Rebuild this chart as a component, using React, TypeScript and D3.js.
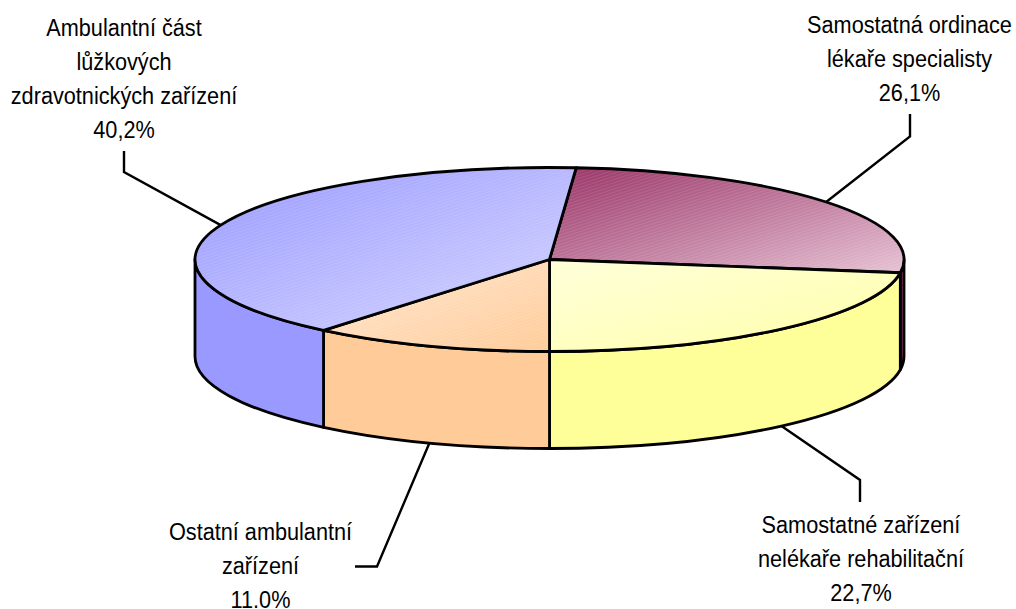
import React from 'react';
import * as d3 from 'd3';

const labels = [
  ['Samostatná ordinace', 'lékaře specialisty', '26,1%'],
  ['Samostatné zařízení', 'nelékaře rehabilitační', '22,7%'],
  ['Ostatní ambulantní', 'zařízení', '11.0%'],
  ['Ambulantní část', 'lůžkových', 'zdravotnických zařízení', '40,2%'],
];
const shares = [26.1, 22.7, 11.0, 40.2];
const sideColors = ['#993366', '#FFFF99', '#FFCC99', '#9999FF'];
const gradientStops = [
  ['#993366', '#E6C2D4'],
  ['#FFFFD9', '#FFFFA6'],
  ['#FFE8D4', '#FFCC99'],
  ['#9999FF', '#D6D6FF'],
];

const WIDTH = 1016;
const HEIGHT = 609;
const CX = 549.5;
const CY = 259.5;
const RX = 354.5;
const RY = 92;
const DEPTH = 97;
const LINE_H = 34;
const FONT_SIZE = 24.5;
const TEXT_SQUEEZE = 0.885;

// text anchor x, first baseline y, then the elbow and the end of each leader
const labelPos = [
  { x: 909.5, y: 33, elbow: [910, 136.5], end: [910, 114], wall: false },
  { x: 861, y: 533, elbow: [860, 480], end: [860, 502], wall: true },
  { x: 260.5, y: 540.5, elbow: [377, 566.5], end: [355, 566.5], wall: true },
  { x: 124, y: 36, elbow: [124, 172], end: [124, 151], wall: false },
];

// pie angles run clockwise from the top, so the ellipse point is sin/-cos
const pt = (a: number, y0 = CY): [number, number] => [CX + RX * Math.sin(a), y0 - RY * Math.cos(a)];

const topPath = (a0: number, a1: number) => {
  const [x0, y0] = pt(a0);
  const [x1, y1] = pt(a1);
  const large = a1 - a0 > Math.PI ? 1 : 0;
  return `M${CX},${CY}L${x0},${y0}A${RX},${RY} 0 ${large} 1 ${x1},${y1}Z`;
};

const wallPath = (a0: number, a1: number) => {
  const [x0, y0] = pt(a0);
  const [x1, y1] = pt(a1);
  const large = a1 - a0 > Math.PI ? 1 : 0;
  return `M${x0},${y0}A${RX},${RY} 0 ${large} 1 ${x1},${y1}L${x1},${y1 + DEPTH}A${RX},${RY} 0 ${large} 0 ${x0},${y0 + DEPTH}Z`;
};

export default function App() {
  const firstShare = (shares[0] + shares[1]) / 100;
  const start = Math.PI - firstShare * 2 * Math.PI;
  const arcs = d3.pie<number>().sort(null).startAngle(start).endAngle(start + 2 * Math.PI)(shares);
  const line = d3.line();

  return (
    <svg
      width={WIDTH}
      height={HEIGHT}
      style={{ position: 'absolute', left: 0, top: 0, background: '#fff' }}
      fontFamily="'Liberation Sans', Arial, sans-serif"
    >
      <defs>
        {gradientStops.map((s, i) => (
          <linearGradient key={i} id={`top${i}`} x1="0" y1="0" x2="1" y2="1">
            <stop offset="0" stopColor={s[0]} />
            <stop offset="1" stopColor={s[1]} />
          </linearGradient>
        ))}
        <pattern id="hatch" width="6" height="3" patternUnits="userSpaceOnUse" patternTransform="rotate(-18)">
          <rect width="6" height="1" fill="#fff" fillOpacity="0.1" />
        </pattern>
      </defs>

      {/* leaders go under the pie */}
      {arcs.map((d, i) => {
        const mid = (d.startAngle + d.endAngle) / 2;
        const pos = labelPos[i];
        const anchor = pt(mid, pos.wall ? CY + DEPTH : CY);
        return (
          <path
            key={i}
            d={line([anchor, pos.elbow as [number, number], pos.end as [number, number]]) ?? ''}
            fill="none"
            stroke="#000"
            strokeWidth={2.4}
          />
        );
      })}

      {arcs.map((d, i) => {
        // only the front half of the rim is visible
        const a0 = Math.max(d.startAngle, Math.PI / 2);
        const a1 = Math.min(d.endAngle, (3 * Math.PI) / 2);
        if (a1 <= a0) return null;
        return <path key={i} d={wallPath(a0, a1)} fill={sideColors[i]} stroke="#000" strokeWidth={2.8} strokeLinejoin="round" />;
      })}

      {arcs.map((d, i) => (
        <g key={i}>
          <path d={topPath(d.startAngle, d.endAngle)} fill={`url(#top${i})`} />
          <path d={topPath(d.startAngle, d.endAngle)} fill="url(#hatch)" stroke="#000" strokeWidth={2.8} strokeLinejoin="round" />
        </g>
      ))}

      {labels.map((rows, i) => (
        <g key={i} transform={`translate(${labelPos[i].x},0) scale(${TEXT_SQUEEZE},1)`}>
          <text textAnchor="middle" fontSize={FONT_SIZE} fill="#000">
            {rows.map((r, j) => (
              <tspan key={j} x={0} y={labelPos[i].y + j * LINE_H}>
                {r}
              </tspan>
            ))}
          </text>
        </g>
      ))}
    </svg>
  );
}
